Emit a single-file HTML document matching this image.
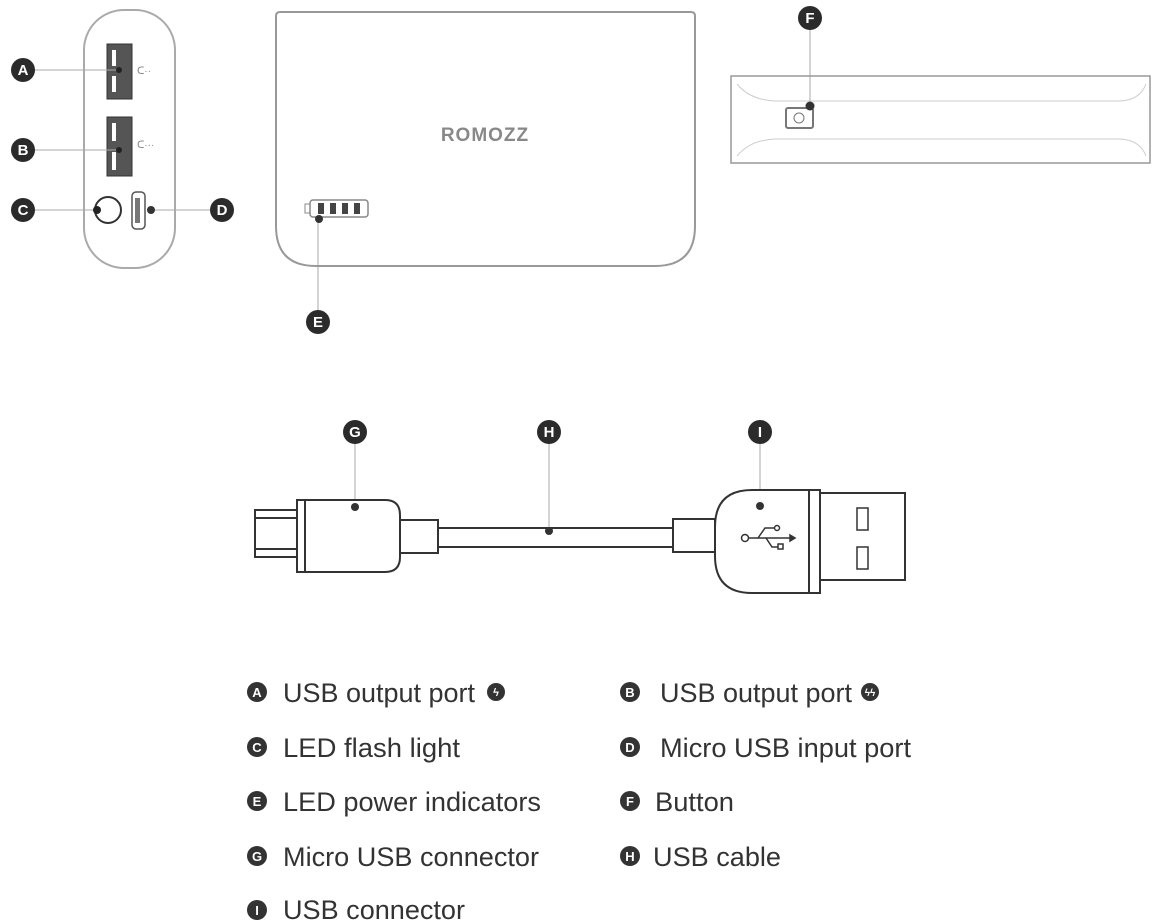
<!DOCTYPE html>
<html><head><meta charset="utf-8"><style>
html,body{margin:0;padding:0;background:#fff;}
svg{display:block;}
text{font-family:"Liberation Sans",sans-serif;}
</style></head><body>
<svg width="1156" height="924" viewBox="0 0 1156 924" xmlns="http://www.w3.org/2000/svg">
<!-- side view -->
<rect x="84" y="10" width="91" height="258" rx="40" fill="none" stroke="#aaa" stroke-width="2"/>
<rect x="107" y="44" width="25" height="55" fill="#555" stroke="#333"/>
<rect x="112" y="50" width="4" height="16" fill="#fff"/><rect x="112" y="76" width="4" height="16" fill="#fff"/>
<rect x="107" y="117" width="25" height="59" fill="#555" stroke="#333"/>
<rect x="112" y="123" width="4" height="18" fill="#fff"/><rect x="112" y="152" width="4" height="18" fill="#fff"/>
<text x="137" y="74" font-size="10" fill="#888">ᑕ··</text>
<text x="137" y="148" font-size="10" fill="#888">ᑕ···</text>
<circle cx="108" cy="210" r="13" fill="none" stroke="#333" stroke-width="2"/>
<rect x="132" y="192" width="13" height="37" rx="4" fill="none" stroke="#555" stroke-width="1.5"/>
<rect x="135" y="198" width="5" height="25" fill="#777"/>
<circle cx="151" cy="210" r="4" fill="#333"/>
<g stroke="#aaa" stroke-width="1">
<line x1="34" y1="70" x2="119" y2="70"/><line x1="34" y1="150" x2="119" y2="150"/>
<line x1="34" y1="210" x2="96" y2="210"/><line x1="155" y1="210" x2="211" y2="210"/>
<line x1="318" y1="218" x2="318" y2="311"/><line x1="810" y1="29" x2="810" y2="105"/>
<line x1="355" y1="443" x2="355" y2="505"/><line x1="549" y1="443" x2="549" y2="530"/>
<line x1="760" y1="443" x2="760" y2="505"/>
</g>
<circle cx="119" cy="70" r="3" fill="#222"/><circle cx="119" cy="150" r="3" fill="#222"/>
<circle cx="97" cy="210" r="4" fill="#222"/>
<!-- front view -->
<path d="M276,16 Q276,12 280,12 H691 Q695,12 695,16 V226 Q695,266 655,266 H316 Q276,266 276,226 Z" fill="none" stroke="#999" stroke-width="2"/>
<text x="485" y="141" font-size="19" font-weight="bold" fill="#888" text-anchor="middle" letter-spacing="1">ROMOZZ</text>
<rect x="310" y="200" width="58" height="17" rx="3" fill="none" stroke="#888" stroke-width="1.5"/>
<rect x="305" y="204" width="5" height="9" fill="none" stroke="#888"/>
<rect x="318" y="203" width="6" height="11" fill="#444"/><rect x="330" y="203" width="6" height="11" fill="#444"/>
<rect x="342" y="203" width="6" height="11" fill="#444"/><rect x="354" y="203" width="6" height="11" fill="#444"/>
<circle cx="319" cy="219" r="4" fill="#333"/>
<!-- top view -->
<rect x="731" y="76" width="419" height="87" fill="none" stroke="#999" stroke-width="1.5"/>
<path d="M737,84 Q750,100 775,101 H1120 Q1140,100 1146,84" fill="none" stroke="#ccc"/>
<path d="M737,156 Q750,140 775,139 H1120 Q1140,140 1146,156" fill="none" stroke="#ccc"/>
<rect x="786" y="108" width="27" height="20" rx="2" fill="none" stroke="#777" stroke-width="2"/>
<circle cx="799" cy="118" r="5" fill="none" stroke="#777"/>
<circle cx="810" cy="106" r="4.5" fill="#333"/>
<!-- cable -->
<g fill="#fff" stroke="#333" stroke-width="2">
<rect x="255" y="510" width="43" height="47"/>
<line x1="255" y1="518" x2="298" y2="518"/><line x1="255" y1="549" x2="298" y2="549"/>
<path d="M297,500 H385 Q400,500 400,515 V557 Q400,572 385,572 H297 Z"/>
<line x1="305" y1="500" x2="305" y2="572"/>
<rect x="400" y="520" width="38" height="33"/>
<rect x="438" y="528" width="235" height="19"/>
<rect x="673" y="519" width="42" height="33"/>
<path d="M820,490 H752 Q715,490 715,527 V556 Q715,593 752,593 H820 Z"/>
<line x1="809" y1="490" x2="809" y2="593"/>
<rect x="820" y="493" width="85" height="87"/>
<rect x="857" y="508" width="11" height="22" stroke-width="1.5"/>
<rect x="857" y="547" width="11" height="22" stroke-width="1.5"/>
</g>
<circle cx="355" cy="507" r="4" fill="#333"/><circle cx="549" cy="531" r="4" fill="#333"/>
<circle cx="760" cy="506" r="4" fill="#333"/>
<g stroke="#333" stroke-width="1.5" fill="none">
<circle cx="745" cy="538" r="3.5"/><line x1="749" y1="538" x2="790" y2="538"/>
<path d="M758,538 L765,528 H774"/><path d="M766,538 L772,547 H778"/>
<circle cx="777" cy="528" r="2.5"/><rect x="778" y="544" width="5" height="5"/>
<path d="M790,535 L795,538 L790,541Z" fill="#333"/>
</g>
<!-- labels -->
<g font-size="15" font-weight="bold" fill="#fff" text-anchor="middle">
<circle cx="23" cy="70" r="12" fill="#2b2b2b"/><text x="23" y="75">A</text>
<circle cx="23" cy="150" r="12" fill="#2b2b2b"/><text x="23" y="155">B</text>
<circle cx="23" cy="210" r="12" fill="#2b2b2b"/><text x="23" y="215">C</text>
<circle cx="222" cy="210" r="12" fill="#2b2b2b"/><text x="222" y="215">D</text>
<circle cx="318" cy="322" r="12" fill="#2b2b2b"/><text x="318" y="327">E</text>
<circle cx="810" cy="18" r="12" fill="#2b2b2b"/><text x="810" y="23">F</text>
<circle cx="355" cy="432" r="12" fill="#2b2b2b"/><text x="355" y="437">G</text>
<circle cx="549" cy="432" r="12" fill="#2b2b2b"/><text x="549" y="437">H</text>
<circle cx="760" cy="432" r="12" fill="#2b2b2b"/><text x="760" y="437">I</text>
</g>
<!-- legend -->
<g font-size="13" font-weight="bold" fill="#fff" text-anchor="middle">
<circle cx="257" cy="692" r="10" fill="#333"/><text x="257" y="697">A</text>
<circle cx="257" cy="747" r="10" fill="#333"/><text x="257" y="752">C</text>
<circle cx="257" cy="801" r="10" fill="#333"/><text x="257" y="806">E</text>
<circle cx="257" cy="856" r="10" fill="#333"/><text x="257" y="861">G</text>
<circle cx="257" cy="910" r="10" fill="#333"/><text x="257" y="915">I</text>
<circle cx="630" cy="692" r="10" fill="#333"/><text x="630" y="697">B</text>
<circle cx="630" cy="747" r="10" fill="#333"/><text x="630" y="752">D</text>
<circle cx="630" cy="801" r="10" fill="#333"/><text x="630" y="806">F</text>
<circle cx="630" cy="856" r="10" fill="#333"/><text x="630" y="861">H</text>
<circle cx="496" cy="692" r="9" fill="#333"/><text x="496" y="696" font-size="11">ϟ</text>
<circle cx="870" cy="692" r="9" fill="#333"/><text x="870" y="696" font-size="10">ϟϟ</text>
</g>
<g font-size="27" fill="#333" transform="translate(0,0)">
<text x="283" y="702" textLength="192" lengthAdjust="spacingAndGlyphs">USB output port</text>
<text x="283" y="757" textLength="177" lengthAdjust="spacingAndGlyphs">LED flash light</text>
<text x="283" y="811" textLength="258" lengthAdjust="spacingAndGlyphs">LED power indicators</text>
<text x="283" y="866" textLength="256" lengthAdjust="spacingAndGlyphs">Micro USB connector</text>
<text x="283" y="919" textLength="182" lengthAdjust="spacingAndGlyphs">USB connector</text>
<text x="660" y="702" textLength="192" lengthAdjust="spacingAndGlyphs">USB output port</text>
<text x="660" y="757" textLength="251" lengthAdjust="spacingAndGlyphs">Micro USB input port</text>
<text x="655" y="811" textLength="79" lengthAdjust="spacingAndGlyphs">Button</text>
<text x="653" y="866" textLength="128" lengthAdjust="spacingAndGlyphs">USB cable</text>
</g>
</svg>
</body></html>
